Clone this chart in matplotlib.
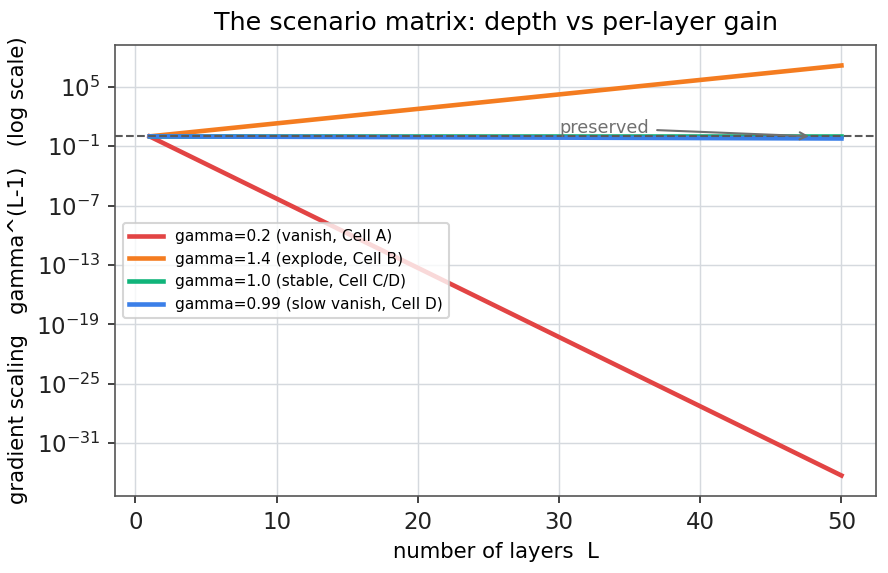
import matplotlib
matplotlib.use("Agg")
import matplotlib.pyplot as plt

# -----------------------------
# Data (endpoints of gamma^(L-1), straight lines on log axis)
# -----------------------------
layers = [1, 50]
vanish_02 = [1.0, 5.6e-35]
explode_14 = [1.0, 1.45e7]
stable_10 = [1.0, 1.0]
slow_099 = [1.0, 0.61]

labels = [
    "gamma=0.2 (vanish, Cell A)",
    "gamma=1.4 (explode, Cell B)",
    "gamma=1.0 (stable, Cell C/D)",
    "gamma=0.99 (slow vanish, Cell D)",
]
colors = ["#e24444", "#f47c20", "#10b47a", "#3b7fe8"]

# -----------------------------
# Plot
# -----------------------------
plt.rcParams["font.family"] = "DejaVu Sans"
fig, ax = plt.subplots(figsize=(5.92, 3.82), dpi=150)

series = [vanish_02, explode_14, stable_10, slow_099]
for vals, lab, col in zip(series, labels, colors):
    ax.plot(layers, vals, color=col, linewidth=2.2, label=lab)

ax.set_yscale("log")
ax.axhline(1.0, color="#5a5a5a", linestyle="--", linewidth=1)

ax.annotate("preserved", xy=(48, 1.0), xytext=(30, 2.2),
            fontsize=8.5, color="#707070",
            arrowprops=dict(arrowstyle="->", color="#707070", lw=1))

ax.set_yticks([1e5, 1e-1, 1e-7, 1e-13, 1e-19, 1e-25, 1e-31])
ax.minorticks_off()
ax.grid(True, color="#d5d9de", linewidth=0.7)
ax.set_axisbelow(True)
for s in ax.spines.values():
    s.set_color("#555555")
ax.tick_params(colors="#222222", labelsize=11)

ax.set_title("The scenario matrix: depth vs per-layer gain", fontsize=12.2, pad=7)
ax.set_xlabel("number of layers  L", fontsize=10.2)
ax.set_ylabel("gradient scaling   gamma^(L-1)   (log scale)", fontsize=10.2)
ax.legend(loc="center left", fontsize=7.4, handlelength=2.2)

fig.subplots_adjust(left=0.1295, right=0.9865, top=0.9215, bottom=0.1344)
plt.savefig("out.png", dpi=150)
plt.close()
